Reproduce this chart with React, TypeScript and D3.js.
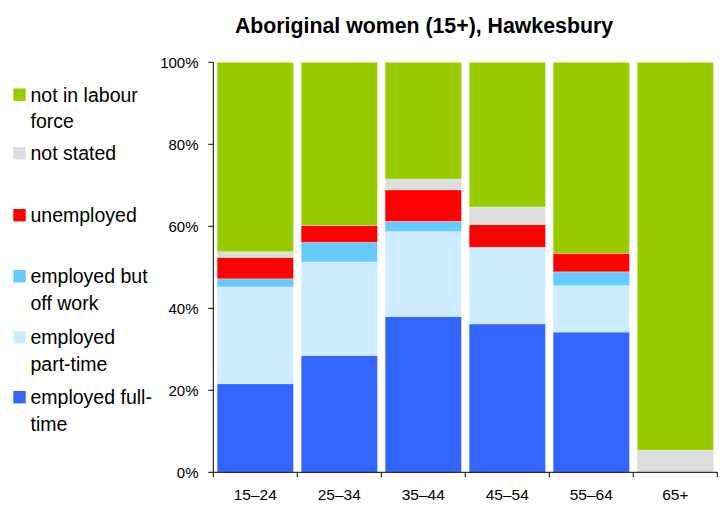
import React from "react";
import * as d3 from "d3";

const categories = ["15–24", "25–34", "35–44", "45–54", "55–64", "65+"];
const employedFullTime = [21.6, 28.5, 38.0, 36.2, 34.2, 0];
const employedPartTime = [23.6, 22.8, 20.7, 18.7, 11.3, 0];
const employedOffWork = [2.0, 4.8, 2.5, 0, 3.4, 0];
const unemployed = [5.2, 4.1, 7.7, 5.5, 4.5, 0];
const notStated = [1.4, 0, 2.6, 4.3, 0, 5.4];
const notInLabourForce = [46.2, 39.8, 28.5, 35.3, 46.6, 94.6];
const yTicks = [0, 20, 40, 60, 80, 100];

const seriesNames = [
  "employed full-time",
  "employed part-time",
  "employed but off work",
  "unemployed",
  "not stated",
  "not in labour force",
];
const seriesValues = [
  employedFullTime,
  employedPartTime,
  employedOffWork,
  unemployed,
  notStated,
  notInLabourForce,
];
const colors = ["#3366FF", "#CCECFF", "#66CCFF", "#FF0000", "#DDDDDD", "#99CC00"];

// legend entries (top to bottom) with line breaks
const legendItems = [
  { idx: 5, lines: ["not in labour", "force"], y: 101.5 },
  { idx: 4, lines: ["not stated"], y: 160 },
  { idx: 3, lines: ["unemployed"], y: 222 },
  { idx: 2, lines: ["employed but", "off work"], y: 283 },
  { idx: 1, lines: ["employed", "part-time"], y: 344 },
  { idx: 0, lines: ["employed full-", "time"], y: 404 },
];

const FONT = "'Liberation Sans', Arial, Helvetica, sans-serif";

export default function App() {
  const W = 727, H = 506;
  const x0 = 213.3, x1 = 717.3, yTop = 62.3, yBot = 472.3;

  const x = d3.scaleBand<string>().domain(categories).range([x0, x1]).paddingInner(0.092).paddingOuter(0.046);
  const y = d3.scaleLinear().domain([0, 100]).range([yBot, yTop]);

  const table = categories.map((c, i) => {
    const row: any = { cat: c };
    seriesNames.forEach((s, k) => (row[s] = seriesValues[k][i]));
    return row;
  });
  const stacked = d3.stack<any>().keys(seriesNames)(table);

  const boundaries = categories.map((_, i) => x0 + i * x.step()).concat([x1]);

  return (
    <svg width={W} height={H} style={{ position: "absolute", left: 0, top: 0 }} fontFamily={FONT}>
      <rect width={W} height={H} fill="#fff" />
      <text x={424} y={33} textAnchor="middle" fontWeight="bold" fontSize={21.3} fill="#000">
        Aboriginal women (15+), Hawkesbury
      </text>

      {stacked.map((layer, k) => (
        <g key={k} fill={colors[k]}>
          {layer.map((d, i) =>
            d[1] - d[0] > 0 ? (
              <rect
                key={i}
                x={x(categories[i])}
                width={x.bandwidth()}
                y={y(d[1])}
                height={y(d[0]) - y(d[1])}
                stroke="#ffffff"
                strokeOpacity={0.35}
                strokeWidth={0.8}
              />
            ) : null
          )}
        </g>
      ))}

      {/* y axis */}
      <line x1={x0} x2={x0} y1={yTop} y2={yBot} stroke="#000" strokeWidth={1} />
      {yTicks.map((t) => (
        <g key={t}>
          <line x1={x0 - 5} x2={x0} y1={y(t)} y2={y(t)} stroke="#000" />
          <text x={198.5} y={y(t) + 5.5} textAnchor="end" fontSize={15} fill="#000">
            {t}%
          </text>
        </g>
      ))}

      {/* x axis */}
      <line x1={x0} x2={x1} y1={yBot} y2={yBot} stroke="#000" strokeWidth={1} />
      {boundaries.map((b, i) => (
        <line key={i} x1={b} x2={b} y1={yBot} y2={yBot + 5} stroke="#000" />
      ))}
      {categories.map((c) => (
        <text key={c} x={(x(c) as number) + x.bandwidth() / 2} y={500} textAnchor="middle" fontSize={15.5} fill="#000">
          {c}
        </text>
      ))}

      {/* legend */}
      {legendItems.map((it) => (
        <g key={it.idx}>
          <rect x={13.3} y={it.y - 13} width={12.4} height={12.4} fill={colors[it.idx]} />
          {it.lines.map((ln, j) => (
            <text key={j} x={30.5} y={it.y + j * 26.7} fontSize={19.5} fill="#000">
              {ln}
            </text>
          ))}
        </g>
      ))}
    </svg>
  );
}
